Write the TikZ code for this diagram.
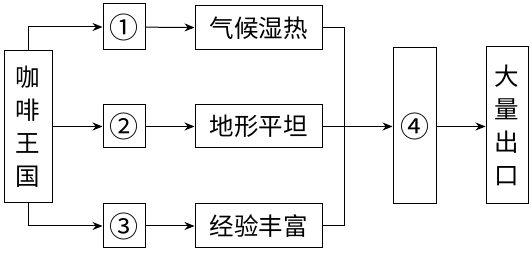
\documentclass[tikz,border=0pt]{standalone}
\usepackage{fontspec}
\newfontfamily\cjk{Noto Sans CJK SC}
\usetikzlibrary{arrows.meta}
\begin{document}
\begin{tikzpicture}[x=1pt,y=-1pt,
  bx/.style={draw,line width=1pt,inner sep=0pt,font=\cjk\fontsize{24.5}{33}\selectfont,align=center},
  arr/.style={line width=1pt,-{Stealth[length=10pt,width=8pt]}},
  ln/.style={line width=1pt}]
\useasboundingbox (0,0) rectangle (532,253);
\node[bx,minimum width=48pt,minimum height=152pt] (k) at (28,127) {咖\\啡\\王\\国};
\node[bx,minimum width=42pt,minimum height=46pt] (n1) at (124,27) {\fontsize{29}{29}\selectfont ①};
\node[bx,minimum width=42pt,minimum height=43pt] (n2) at (124,126.5) {\fontsize{29}{29}\selectfont ②};
\node[bx,minimum width=42pt,minimum height=44pt] (n3) at (124,226) {\fontsize{29}{29}\selectfont ③};
\node[bx,minimum width=127pt,minimum height=44pt] (t1) at (258.5,28) {气候湿热};
\node[bx,minimum width=127pt,minimum height=43pt] (t2) at (258.5,126.5) {地形平坦};
\node[bx,minimum width=127pt,minimum height=44pt] (t3) at (258.5,226) {经验丰富};
\node[bx,minimum width=43pt,minimum height=156pt] (n4) at (414.5,126) {\fontsize{29}{29}\selectfont ④};
\node[bx,minimum width=42pt,minimum height=157pt] (out) at (507,125.5) {大\\量\\出\\口};
\coordinate (j) at (344,126.5);
\draw[arr] (k.north) |- (n1.west);
\draw[arr] (k.east |- n2.west) -- (n2.west);
\draw[arr] (k.south) |- (n3.west);
\draw[arr] (n1) -- (t1);
\draw[arr] (n2) -- (t2);
\draw[arr] (n3) -- (t3);
\draw[ln] (t1.east) -| (j);
\draw[ln] (t3.east) -| (j);
\draw[ln] (t2.east) -- (j);
\draw[arr] (j) -- (n4.west |- j);
\draw[arr] (n4.east |- j) -- (out.west |- j);
\end{tikzpicture}
\end{document}
